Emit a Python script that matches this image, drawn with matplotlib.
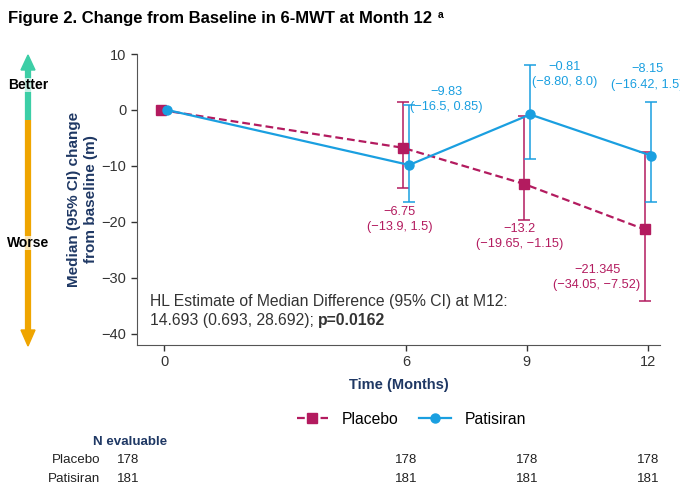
import matplotlib.pyplot as plt
from matplotlib.patches import Polygon
import numpy as np

plt.rcParams['font.family'] = ['Liberation Sans', 'DejaVu Sans']

# dados
months = [0, 6, 9, 12]
placebo_med = [0, -6.75, -13.2, -21.345]
placebo_lo = [0, -13.9, -19.65, -34.05]
placebo_hi = [0, 1.5, -1.15, -7.52]
patis_med = [0, -9.83, -0.81, -8.15]
patis_lo = [0, -16.5, -8.80, -16.42]
patis_hi = [0, 0.85, 8.0, 1.5]
placebo_lbl = ['', '\u22126.75\n(\u221213.9, 1.5)', '\u221213.2\n(\u221219.65, \u22121.15)',
               '\u221221.345\n(\u221234.05, \u22127.52)']
patis_lbl = ['', '\u22129.83\n(\u221216.5, 0.85)', '\u22120.81\n(\u22128.80, 8.0)',
             '\u22128.15\n(\u221216.42, 1.5)']
n_placebo = [178, 178, 178, 178]
n_patis = [181, 181, 181, 181]

c_pla = '#B31B5F'
c_pat = '#1A9FE0'
navy = '#1F3864'
cinza = '#333333'

fig = plt.figure(figsize=(6.8, 4.93), dpi=100)
ax = fig.add_axes([137 / 680, 1 - 345 / 493, 523 / 680, 291 / 493])

dx = 0.08
xp = np.array(months) - dx
xq = np.array(months) + dx
pm = np.array(placebo_med)
qm = np.array(patis_med)
pe = [pm - np.array(placebo_lo), np.array(placebo_hi) - pm]
qe = [qm - np.array(patis_lo), np.array(patis_hi) - qm]

ax.errorbar(xp[1:], pm[1:], yerr=[pe[0][1:], pe[1][1:]], fmt='none', ecolor=c_pla,
            elinewidth=1.1, capsize=4, capthick=1.1, zorder=2)
ax.errorbar(xq[1:], qm[1:], yerr=[qe[0][1:], qe[1][1:]], fmt='none', ecolor=c_pat,
            elinewidth=1.1, capsize=4, capthick=1.1, zorder=2)
ax.plot(xp, pm, color=c_pla, ls=(0, (3.5, 1.8)), lw=1.6, marker='s', ms=6.5,
        label='Placebo', zorder=3)
ax.plot(xq, qm, color=c_pat, lw=1.6, marker='o', ms=6.5, label='Patisiran', zorder=4)

# rótulos dos valores
pla_pos = [None, (5.84, -19.6), (8.81, -22.6), (10.74, -29.9)]
pat_pos = [None, (7.0, 1.9), (9.93, 6.4), (11.09, 5.9)]
pat_ha = [None, 'center', 'center', 'left']
for i in range(1, 4):
    ax.text(pla_pos[i][0], pla_pos[i][1], placebo_lbl[i], color=c_pla, fontsize=9.2,
            ha='center', va='center', linespacing=1.35)
    ax.text(pat_pos[i][0], pat_pos[i][1], patis_lbl[i], color=c_pat, fontsize=9.2,
            ha=pat_ha[i], va='center', multialignment='center', linespacing=1.35,
            clip_on=False)

ax.text(-0.35, -34.2, 'HL Estimate of Median Difference (95% CI) at M12:',
        fontsize=11.3, color=cinza, va='center')
t2 = ax.text(-0.35, -37.7, '14.693 (0.693, 28.692); ', fontsize=11.3, color=cinza,
             va='center')
ax.annotate('p=0.0162', xy=(1, 0.5), xycoords=t2, va='center', fontsize=11.3,
            color=cinza, fontweight='bold')

ax.set_xlim(-0.67, 12.3)
ax.set_ylim(-42, 10)
ax.set_xticks(months)
ax.set_yticks([10, 0, -10, -20, -30, -40])
ax.set_yticklabels(['10', '0', '\u221210', '\u221220', '\u221230', '\u221240'])
ax.tick_params(labelsize=10.5, colors=cinza, length=4, width=1)
ax.spines['top'].set_visible(False)
ax.spines['right'].set_visible(False)
ax.spines['left'].set_color('#555555')
ax.spines['bottom'].set_color('#555555')
ax.set_xlabel('Time (Months)', fontsize=10.5, fontweight='bold', color=navy, labelpad=6)
ax.set_ylabel('Median (95% CI) change\nfrom baseline (m)', fontsize=11,
              fontweight='bold', color=navy, labelpad=3)

leg = ax.legend(loc='center', bbox_to_anchor=(0.525, -0.255), ncol=2, frameon=False,
                fontsize=11.3, handlelength=2.0, handletextpad=0.9, columnspacing=1.3)

# camada de decoração em pixels
ov = fig.add_axes([0, 0, 1, 1], zorder=-1)
ov.set_xlim(0, 680)
ov.set_ylim(493, 0)
ov.axis('off')
teal = '#3CCEA6'
orange = '#EFA500'
ov.plot([28, 28], [66, 120], color=teal, lw=4.5, solid_capstyle='butt')
ov.plot([28, 28], [120, 333], color=orange, lw=4.5, solid_capstyle='butt')
ov.add_patch(Polygon([[21, 70], [35, 70], [28, 55]], color=teal))
ov.add_patch(Polygon([[21, 330], [35, 330], [28, 346]], color=orange))
ov.text(28, 85, 'Better', fontsize=10, fontweight='bold', ha='center', va='center',
        bbox=dict(fc='white', ec='none', alpha=0.7, pad=0.3))
ov.text(28, 243, 'Worse', fontsize=10, fontweight='bold', ha='center', va='center',
        bbox=dict(fc='white', ec='none', alpha=0.7, pad=0.3))

fig.text(8 / 680, 1 - 18 / 493, 'Figure 2. Change from Baseline in 6-MWT at Month 12',
         fontsize=12, fontweight='bold', va='center')
fig.text(438 / 680, 1 - 15 / 493, 'a', fontsize=7.5, fontweight='bold', va='center')

# tabela N avaliável
fs_tab = 9.6
fig.text(93 / 680, 1 - 442 / 493, 'N evaluable', fontsize=fs_tab, fontweight='bold',
         color=navy, va='center')
rows = [('Placebo', n_placebo, 460), ('Patisiran', n_patis, 479)]
for name, vals, yy in rows:
    fig.text(100 / 680, 1 - yy / 493, name, fontsize=fs_tab, color='#222222', ha='right',
             va='center')
    for j, (m, v) in enumerate(zip(months, vals)):
        if j == 0:
            fig.text(117 / 680, 1 - yy / 493, str(v), fontsize=fs_tab, color='#222222',
                     va='center')
        else:
            xf = fig.transFigure.inverted().transform(ax.transData.transform((m, 0)))[0]
            fig.text(xf, 1 - yy / 493, str(v), fontsize=fs_tab, color='#222222',
                     ha='center', va='center')

fig.savefig('out.png', dpi=100)
